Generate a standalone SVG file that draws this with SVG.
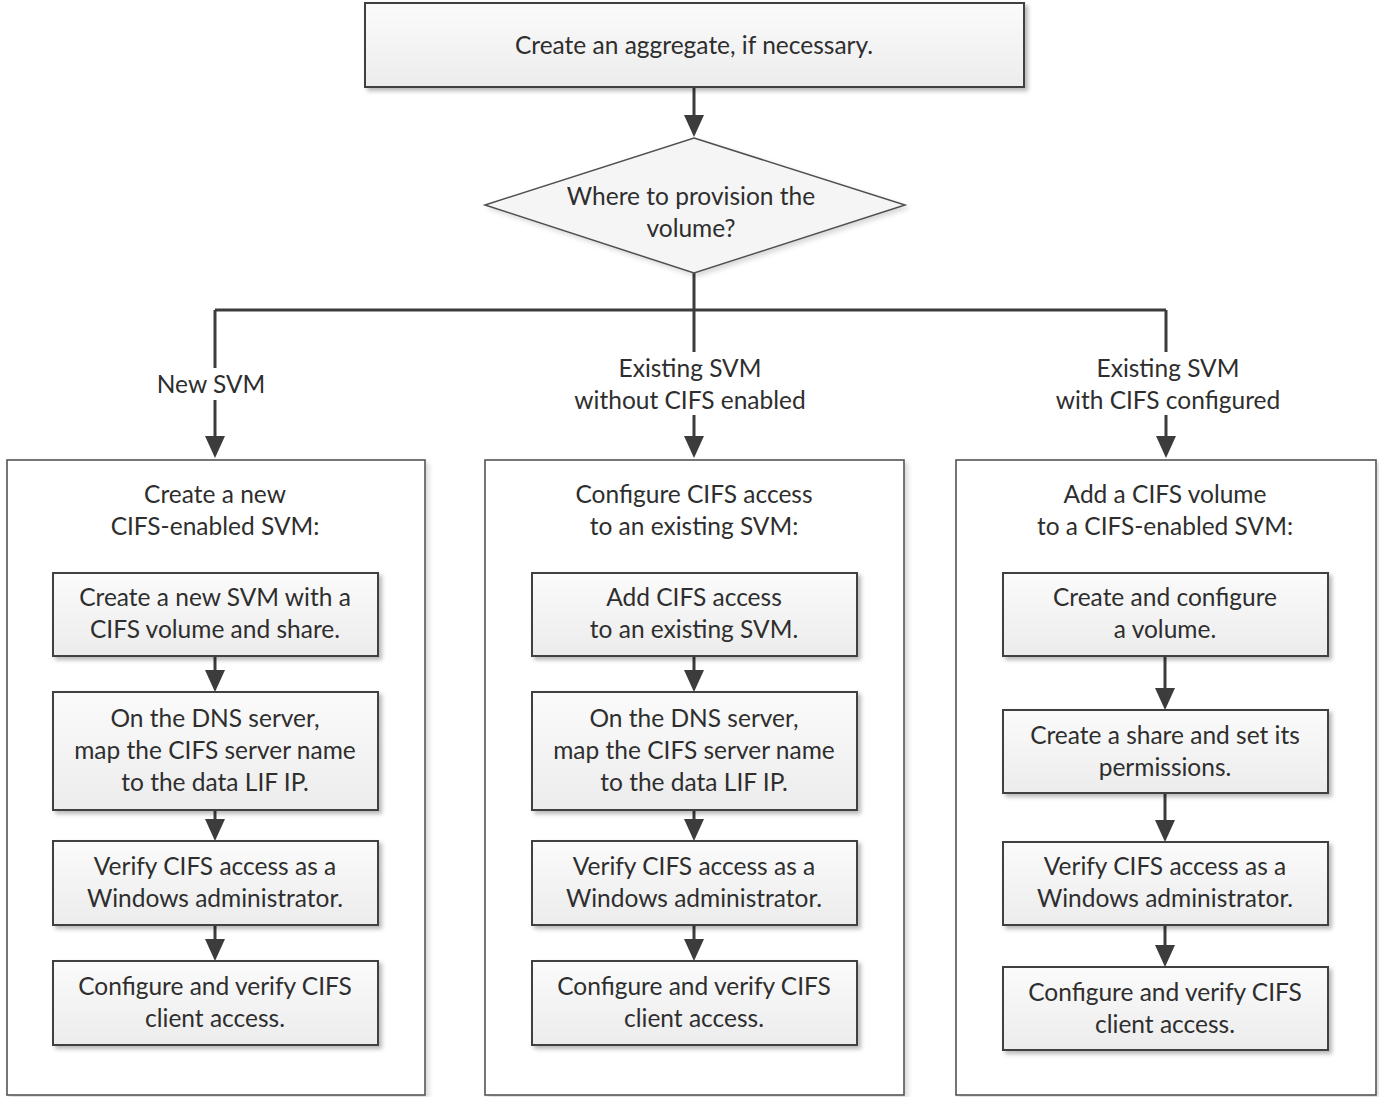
<svg xmlns="http://www.w3.org/2000/svg" width="1379" height="1097" viewBox="0 0 1379 1097">
<defs>
<linearGradient id="gbox" x1="0" y1="0" x2="0" y2="1">
<stop offset="0" stop-color="#fbfbfb"/>
<stop offset="1" stop-color="#ececec"/>
</linearGradient>
<filter id="sh" x="-5%" y="-5%" width="112%" height="120%">
<feDropShadow dx="3" dy="3" stdDeviation="2" flood-color="#000" flood-opacity="0.28"/>
</filter>
<filter id="sh2" x="-5%" y="-5%" width="112%" height="112%">
<feDropShadow dx="3" dy="3" stdDeviation="2.5" flood-color="#000" flood-opacity="0.15"/>
</filter>
<marker id="ah" viewBox="0 -10 22 20" markerWidth="22" markerHeight="20" refX="18" refY="0" orient="auto" markerUnits="userSpaceOnUse">
<path d="M0,-10 L22,0 L0,10 z" fill="#3c3c3c"/>
</marker>
</defs>
<style>
text{font-family:Lato,"Open Sans","Liberation Sans",sans-serif;font-size:24.5px;fill:#2e2e2e;text-anchor:middle}
.box{fill:url(#gbox);stroke:#404040;stroke-width:2;filter:url(#sh)}
.col{fill:#fff;stroke:#555;stroke-width:1.6;filter:url(#sh2)}
.con{fill:none;stroke:#3c3c3c;stroke-width:3}
.arr{marker-end:url(#ah)}
</style>
<rect width="1379" height="1097" fill="#fff"/>

<g id="columns">
<rect id="col-new" class="col" x="7" y="460" width="418" height="635"/>
<rect id="col-existing" class="col" x="485" y="460" width="419" height="635"/>
<rect id="col-configured" class="col" x="956" y="460" width="420" height="635"/>
</g>

<g id="connectors">
<path class="con arr" d="M694,88 V133"/>
<path class="con" d="M694,273 V310 M215,310 H1166 M215,310 V368 M1166,310 V352 M694,310 V352"/>
<path class="con arr" d="M215,400 V454"/>
<path class="con arr" d="M694,415 V454"/>
<path class="con arr" d="M1166,415 V454"/>
<path class="con arr" d="M215,657 V688"/>
<path class="con arr" d="M215,811 V837"/>
<path class="con arr" d="M215,926 V957"/>
<path class="con arr" d="M694,657 V688"/>
<path class="con arr" d="M694,811 V837"/>
<path class="con arr" d="M694,926 V957"/>
<path class="con arr" d="M1165,657 V706"/>
<path class="con arr" d="M1165,794 V838"/>
<path class="con arr" d="M1165,926 V963"/>
</g>

<g id="n-aggregate">
<rect class="box" x="365" y="3" width="659" height="84"/>
<text x="694" y="54">Create an aggregate, if necessary.</text>
</g>

<g id="n-decision">
<polygon points="694,138 905,205 694,273 485,205" fill="#f5f5f5" stroke="#505050" stroke-width="1.5" filter="url(#sh2)"/>
<text x="691" y="205">Where to provision the</text>
<text x="691" y="237">volume?</text>
</g>

<g id="labels">
<text x="211" y="393">New SVM</text>
<text x="690" y="377">Existing SVM</text>
<text x="690" y="409">without CIFS enabled</text>
<text x="1168" y="377">Existing SVM</text>
<text x="1168" y="409">with CIFS configured</text>
</g>

<g id="col-new-title">
<text x="215" y="503">Create a new</text>
<text x="215" y="535">CIFS-enabled SVM:</text>
</g>
<g id="n-left-1">
<rect class="box" x="53" y="573" width="325" height="83"/>
<text x="215" y="606">Create a new SVM with a</text>
<text x="215" y="638">CIFS volume and share.</text>
</g>
<g id="n-left-2">
<rect class="box" x="53" y="692" width="325" height="118"/>
<text x="215" y="727">On the DNS server,</text>
<text x="215" y="759">map the CIFS server name</text>
<text x="215" y="791">to the data LIF IP.</text>
</g>
<g id="n-left-3">
<rect class="box" x="53" y="841" width="325" height="84"/>
<text x="215" y="875">Verify CIFS access as a</text>
<text x="215" y="907">Windows administrator.</text>
</g>
<g id="n-left-4">
<rect class="box" x="53" y="961" width="325" height="84"/>
<text x="215" y="995">Configure and verify CIFS</text>
<text x="215" y="1027">client access.</text>
</g>

<g id="col-existing-title">
<text x="694" y="503">Configure CIFS access</text>
<text x="694" y="535">to an existing SVM:</text>
</g>
<g id="n-mid-1">
<rect class="box" x="532" y="573" width="325" height="83"/>
<text x="694" y="606">Add CIFS access</text>
<text x="694" y="638">to an existing SVM.</text>
</g>
<g id="n-mid-2">
<rect class="box" x="532" y="692" width="325" height="118"/>
<text x="694" y="727">On the DNS server,</text>
<text x="694" y="759">map the CIFS server name</text>
<text x="694" y="791">to the data LIF IP.</text>
</g>
<g id="n-mid-3">
<rect class="box" x="532" y="841" width="325" height="84"/>
<text x="694" y="875">Verify CIFS access as a</text>
<text x="694" y="907">Windows administrator.</text>
</g>
<g id="n-mid-4">
<rect class="box" x="532" y="961" width="325" height="84"/>
<text x="694" y="995">Configure and verify CIFS</text>
<text x="694" y="1027">client access.</text>
</g>

<g id="col-configured-title">
<text x="1165" y="503">Add a CIFS volume</text>
<text x="1165" y="535">to a CIFS-enabled SVM:</text>
</g>
<g id="n-right-1">
<rect class="box" x="1003" y="573" width="325" height="83"/>
<text x="1165" y="606">Create and configure</text>
<text x="1165" y="638">a volume.</text>
</g>
<g id="n-right-2">
<rect class="box" x="1003" y="710" width="325" height="83"/>
<text x="1165" y="744">Create a share and set its</text>
<text x="1165" y="776">permissions.</text>
</g>
<g id="n-right-3">
<rect class="box" x="1003" y="842" width="325" height="83"/>
<text x="1165" y="875">Verify CIFS access as a</text>
<text x="1165" y="907">Windows administrator.</text>
</g>
<g id="n-right-4">
<rect class="box" x="1003" y="967" width="325" height="83"/>
<text x="1165" y="1001">Configure and verify CIFS</text>
<text x="1165" y="1033">client access.</text>
</g>
</svg>
